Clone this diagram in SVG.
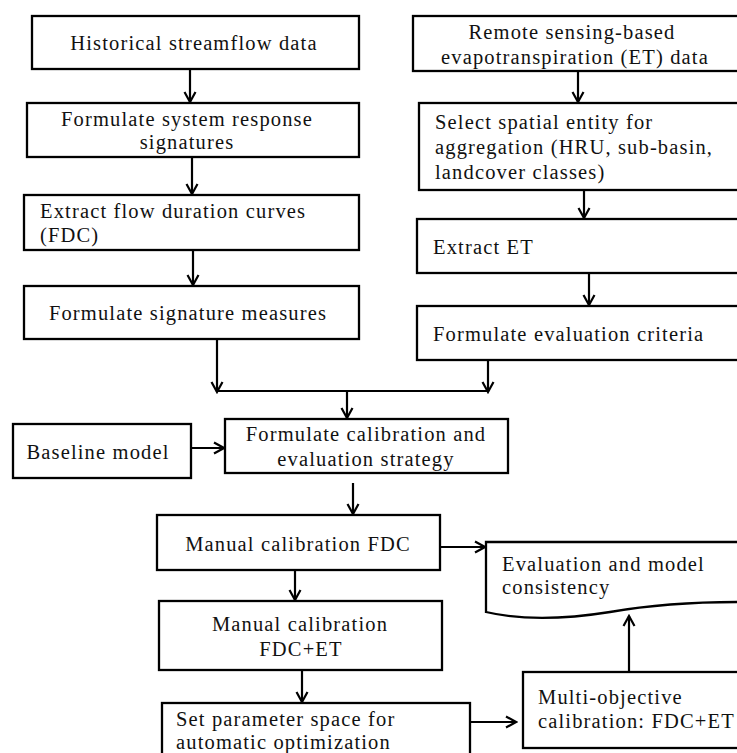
<svg xmlns="http://www.w3.org/2000/svg" width="737" height="753" viewBox="0 0 737 753">
<defs>
<marker id="ah" markerUnits="userSpaceOnUse" markerWidth="14" markerHeight="14" viewBox="0 0 14 14" refX="12" refY="7" orient="auto">
<path d="M2,1.5 L12,7 L2,12.5" fill="none" stroke="#000" stroke-width="2.2"/>
</marker>
</defs>
<style>
.box{fill:#fff;stroke:#000;stroke-width:2.3}
.t{font-family:"Liberation Serif","Times New Roman",serif;font-size:20.5px;letter-spacing:1.15px;fill:#111}
.c{text-anchor:middle}
.ln{fill:none;stroke:#000;stroke-width:2.2}
</style>
<rect width="737" height="753" fill="#fff"/>

<g id="n1"><rect class="box" x="32" y="16" width="327" height="53"/><text class="t c" x="194" y="50">Historical streamflow data</text></g>
<g id="n2"><rect class="box" x="27" y="103" width="332" height="54"/><text class="t c" x="187" y="126">Formulate system response</text><text class="t c" x="187" y="149">signatures</text></g>
<g id="n3"><rect class="box" x="24" y="195" width="335" height="55"/><text class="t" x="40" y="218">Extract flow duration curves</text><text class="t" x="40" y="242">(FDC)</text></g>
<g id="n4"><rect class="box" x="24" y="286" width="335" height="53"/><text class="t c" x="188" y="320">Formulate signature measures</text></g>

<g id="r1"><rect class="box" x="413" y="16" width="340" height="55"/><text class="t c" x="572" y="39">Remote sensing-based</text><text class="t c" x="575" y="64">evapotranspiration (ET) data</text></g>
<g id="r2"><rect class="box" x="419" y="103" width="340" height="87"/><text class="t" x="435" y="129">Select spatial entity for</text><text class="t" x="435" y="154">aggregation (HRU, sub-basin,</text><text class="t" x="435" y="179">landcover classes)</text></g>
<g id="r3"><rect class="box" x="417" y="219" width="340" height="54"/><text class="t" x="433" y="254">Extract ET</text></g>
<g id="r4"><rect class="box" x="417" y="306" width="340" height="54"/><text class="t" x="433" y="341">Formulate evaluation criteria</text></g>

<g id="baseline"><rect class="box" x="13" y="424" width="178" height="54"/><text class="t c" x="98" y="459">Baseline model</text></g>
<g id="strategy"><rect class="box" x="225" y="419" width="283" height="54"/><text class="t c" x="366" y="441">Formulate calibration and</text><text class="t c" x="366" y="466">evaluation strategy</text></g>
<g id="mcfdc"><rect class="box" x="157" y="515" width="283" height="55"/><text class="t c" x="298" y="551">Manual calibration FDC</text></g>
<g id="evaluation"><path class="box" d="M486,612 L486,542 L760,542 L760,602 L737,602 C690,602 650,605 610,612 C560,620 520,620 486,612 Z"/><text class="t" x="502" y="571">Evaluation and model</text><text class="t" x="502" y="594">consistency</text></g>
<g id="mcfdcet"><rect class="box" x="159" y="601" width="283" height="69"/><text class="t c" x="300" y="631">Manual calibration</text><text class="t c" x="301" y="656">FDC+ET</text></g>
<g id="paramspace"><rect class="box" x="162" y="703" width="308" height="70"/><text class="t" x="176" y="726">Set parameter space for</text><text class="t" x="176" y="749">automatic optimization</text></g>
<g id="multiobj"><rect class="box" x="523" y="672" width="240" height="76"/><text class="t" x="538" y="704">Multi-objective</text><text class="t" x="538" y="728">calibration: FDC+ET</text></g>

<g id="connectors">
<line class="ln" x1="190" y1="69" x2="190" y2="102" marker-end="url(#ah)"/>
<line class="ln" x1="192" y1="157" x2="192" y2="194" marker-end="url(#ah)"/>
<line class="ln" x1="193" y1="250" x2="193" y2="285" marker-end="url(#ah)"/>
<line class="ln" x1="217" y1="339" x2="217" y2="392" marker-end="url(#ah)"/>
<line class="ln" x1="578" y1="71" x2="578" y2="102" marker-end="url(#ah)"/>
<line class="ln" x1="584" y1="190" x2="584" y2="218" marker-end="url(#ah)"/>
<line class="ln" x1="589" y1="273" x2="589" y2="305" marker-end="url(#ah)"/>
<line class="ln" x1="488" y1="360" x2="488" y2="392" marker-end="url(#ah)"/>
<line class="ln" x1="217" y1="391" x2="488" y2="391"/>
<line class="ln" x1="347" y1="391" x2="347" y2="418" marker-end="url(#ah)"/>
<line class="ln" x1="191" y1="448" x2="224" y2="448" marker-end="url(#ah)"/>
<line class="ln" x1="353" y1="483" x2="353" y2="514" marker-end="url(#ah)"/>
<line class="ln" x1="440" y1="547" x2="485" y2="547" marker-end="url(#ah)"/>
<line class="ln" x1="295" y1="570" x2="295" y2="600" marker-end="url(#ah)"/>
<line class="ln" x1="302" y1="670" x2="302" y2="702" marker-end="url(#ah)"/>
<line class="ln" x1="470" y1="722" x2="516" y2="722" marker-end="url(#ah)"/>
<line class="ln" x1="629" y1="672" x2="629" y2="616" marker-end="url(#ah)"/>
</g>
</svg>
